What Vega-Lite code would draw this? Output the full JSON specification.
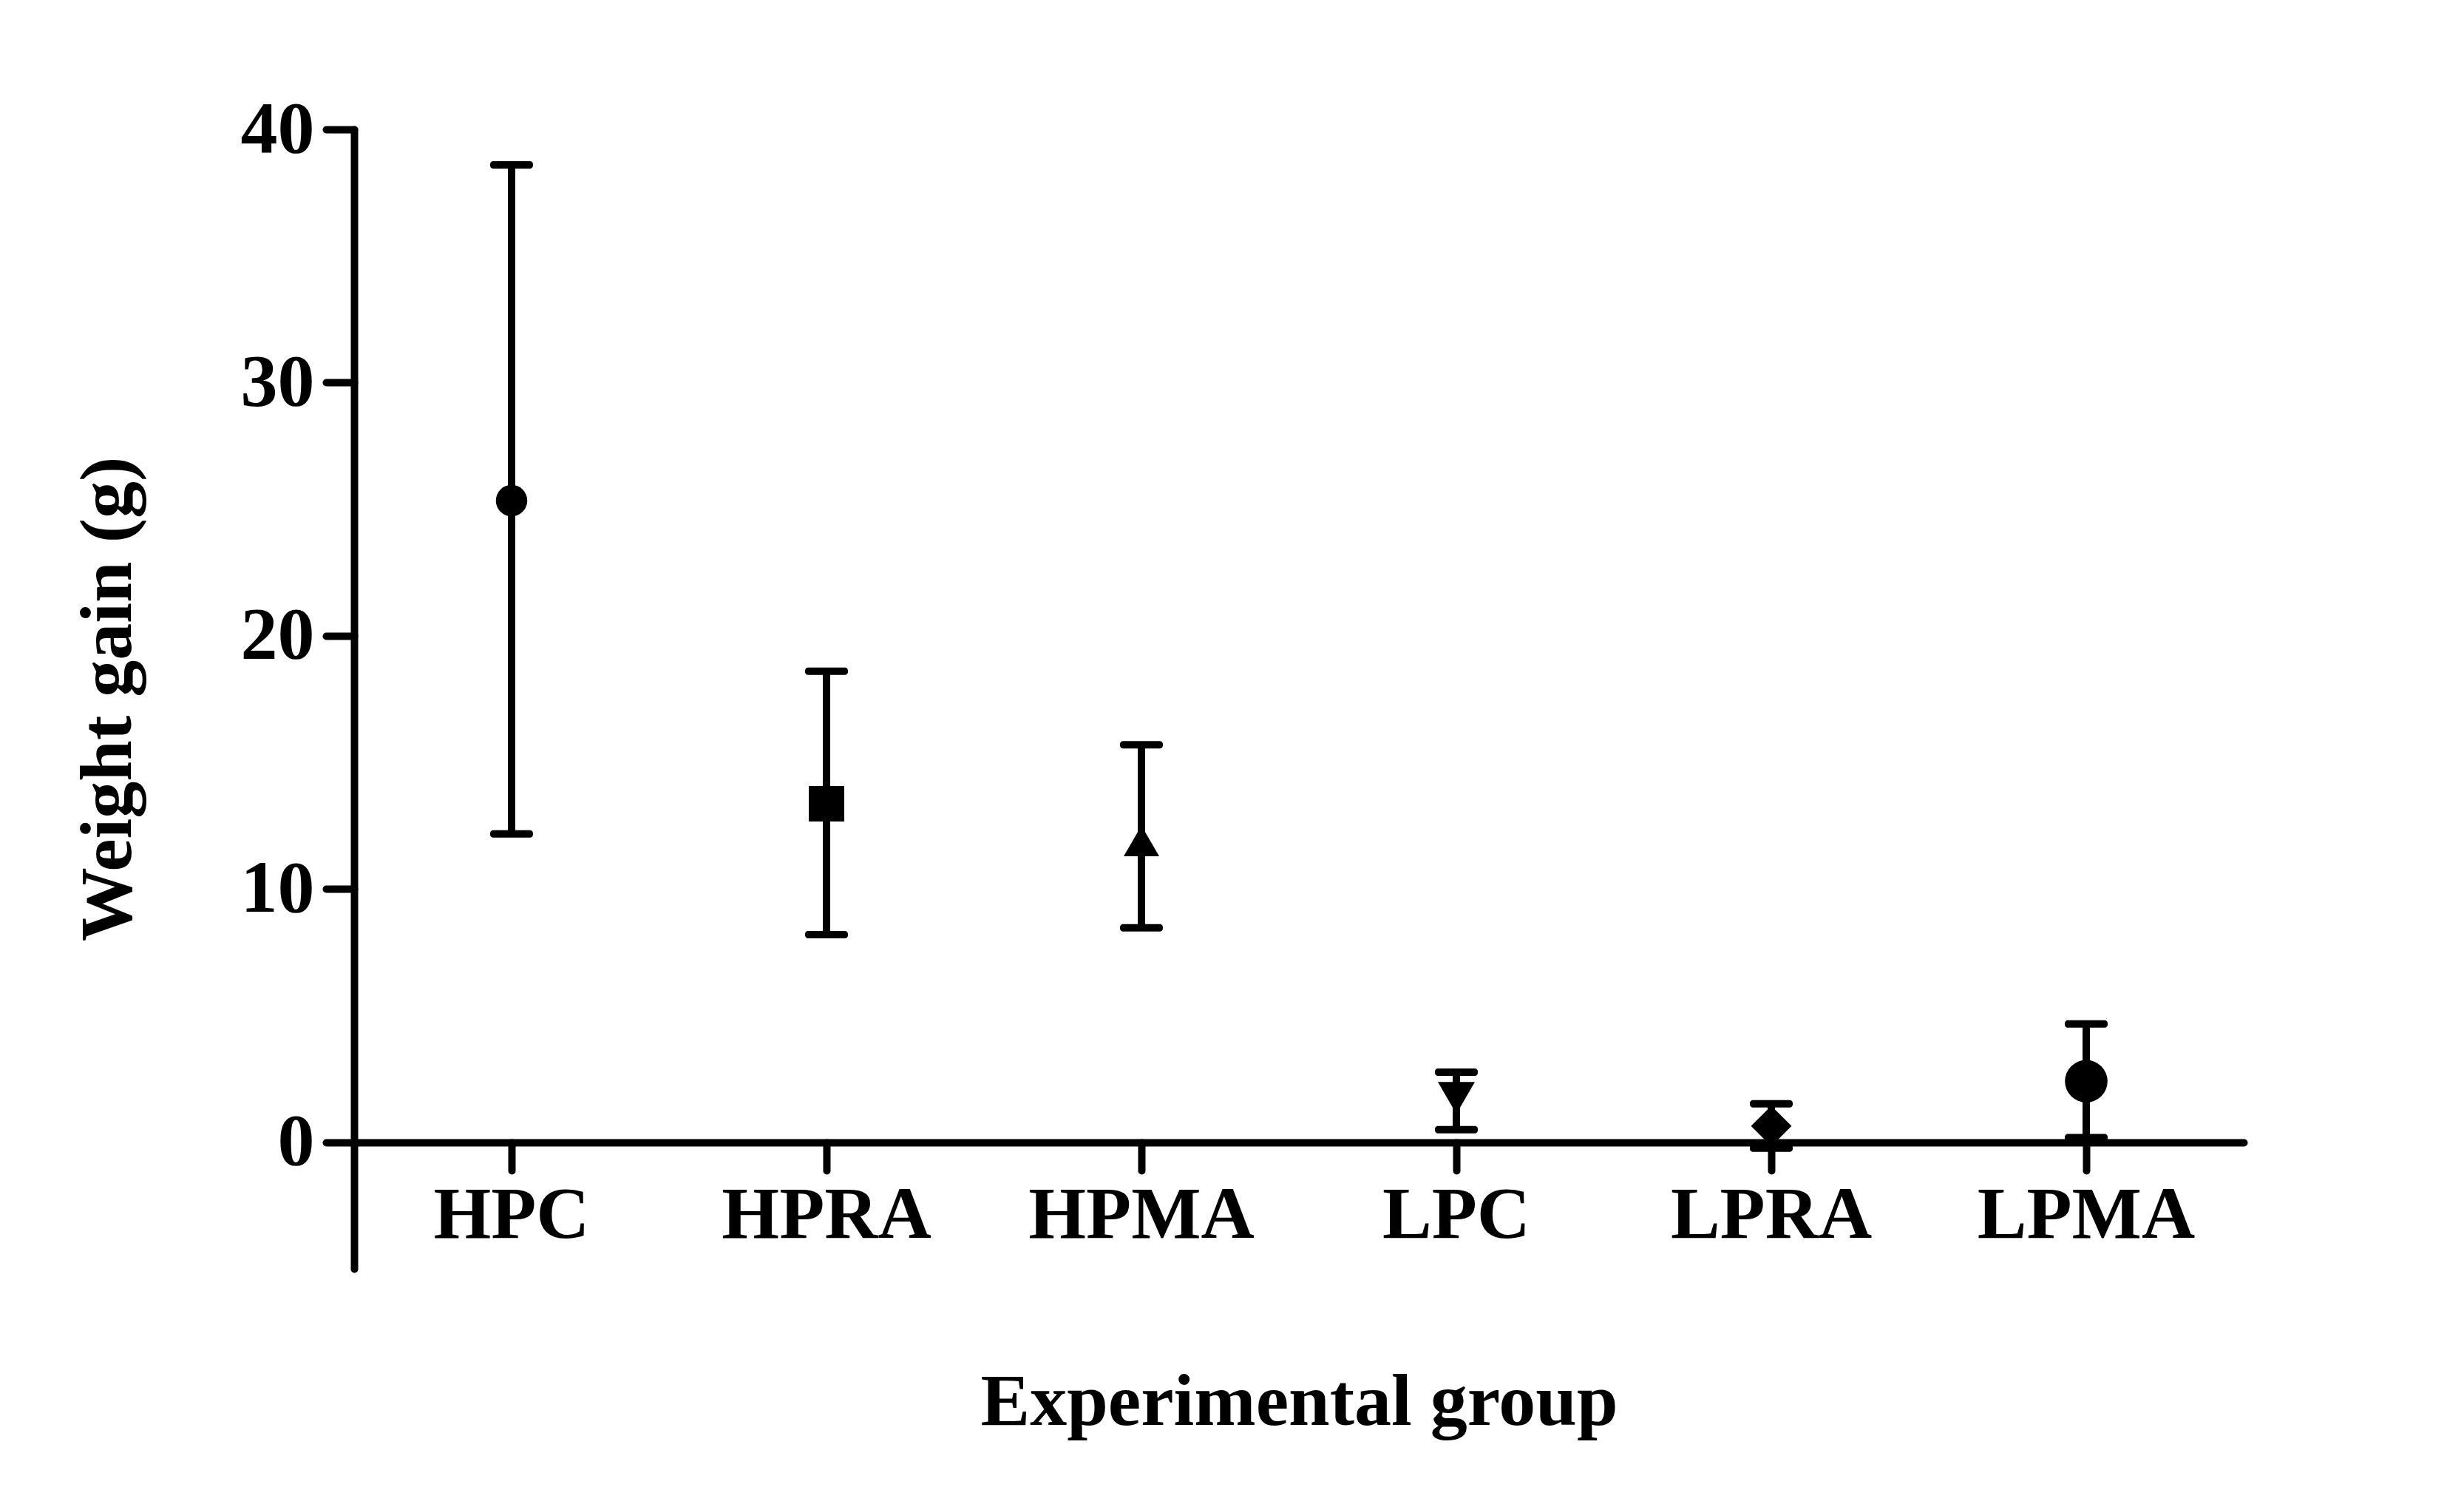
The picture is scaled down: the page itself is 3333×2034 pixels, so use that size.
{
  "$schema": "https://vega.github.io/schema/vega-lite/v6.json",
  "autosize": "none",
  "width": 2556,
  "height": 1541,
  "padding": {"left": 479, "top": 175, "right": 298, "bottom": 318},
  "background": "white",
  "config": {
    "view": {"stroke": null},
    "font": "Liberation Serif"
  },
  "data": {
    "values": [
      {"group": "HPC", "mean": 25.34, "lower": 12.18, "upper": 38.6},
      {"group": "HPRA", "mean": 13.37, "lower": 8.2, "upper": 18.6},
      {"group": "HPMA", "mean": 11.9, "lower": 8.47, "upper": 15.7},
      {"group": "LPC", "mean": 1.75, "lower": 0.5, "upper": 2.77},
      {"group": "LPRA", "mean": 0.64, "lower": -0.23, "upper": 1.52},
      {"group": "LPMA", "mean": 2.41, "lower": 0.18, "upper": 4.67}
    ]
  },
  "encoding": {
    "x": {
      "field": "group",
      "type": "nominal",
      "sort": ["HPC", "HPRA", "HPMA", "LPC", "LPRA", "LPMA"],
      "scale": {"type": "band", "paddingInner": 0, "paddingOuter": 0},
      "title": "Experimental group",
      "axis": {
        "offset": -171,
        "bandPosition": 0.5,
        "labelAngle": 0,
        "labelLimit": 0,
        "labelFont": "Liberation Serif",
        "labelFontSize": 100,
        "labelFontWeight": "bold",
        "labelColor": "black",
        "labelPadding": 11,
        "domainColor": "black",
        "domainWidth": 10,
        "domainCap": "round",
        "tickColor": "black",
        "tickWidth": 10,
        "tickSize": 38,
        "tickCap": "round",
        "grid": false,
        "titleFont": "Liberation Serif",
        "titleFontSize": 100,
        "titleFontWeight": "bold",
        "titleColor": "black",
        "titleY": 381,
        "titleBaseline": "alphabetic"
      }
    }
  },
  "layer": [
    {
      "mark": {"type": "rule", "color": "black", "strokeWidth": 10},
      "encoding": {
        "y": {
          "field": "lower",
          "type": "quantitative",
          "scale": {"domain": [-5, 40], "nice": false, "zero": false},
          "title": "Weight gain (g)",
          "axis": {
            "values": [0, 10, 20, 30, 40],
            "grid": false,
            "labelFont": "Liberation Serif",
            "labelFontSize": 100,
            "labelFontWeight": "bold",
            "labelColor": "black",
            "labelPadding": 16,
            "labelFlush": false,
            "labelLimit": 0,
            "domainColor": "black",
            "domainWidth": 10,
            "domainCap": "round",
            "tickColor": "black",
            "tickWidth": 10,
            "tickSize": 38,
            "tickCap": "round",
            "titleFont": "Liberation Serif",
            "titleFontSize": 100,
            "titleFontWeight": "bold",
            "titleColor": "black",
            "titleAngle": -90,
            "titleX": -303,
            "titleY": 770,
            "titleAlign": "center",
            "titleBaseline": "alphabetic",
            "titleLimit": 0
          }
        },
        "y2": {"field": "upper"}
      }
    },
    {
      "mark": {"type": "tick", "color": "black", "size": 58, "thickness": 10, "opacity": 1, "cornerRadius": 4},
      "encoding": {
        "y": {"field": "upper", "type": "quantitative"}
      }
    },
    {
      "mark": {"type": "tick", "color": "black", "size": 58, "thickness": 10, "opacity": 1, "cornerRadius": 4},
      "encoding": {
        "y": {"field": "lower", "type": "quantitative"}
      }
    },
    {
      "mark": {"type": "point", "filled": true, "color": "black", "opacity": 1},
      "encoding": {
        "y": {"field": "mean", "type": "quantitative"},
        "shape": {
          "field": "group",
          "type": "nominal",
          "scale": {
            "domain": ["HPC", "HPRA", "HPMA", "LPC", "LPRA", "LPMA"],
            "range": ["circle", "square", "triangle-up", "triangle-down", "diamond", "circle"]
          },
          "legend": null
        },
        "size": {
          "field": "group",
          "type": "ordinal",
          "scale": {
            "type": "ordinal",
            "domain": ["HPC", "HPRA", "HPMA", "LPC", "LPRA", "LPMA"],
            "range": [1810, 2304, 2304, 2500, 3000, 3318]
          },
          "legend": null
        }
      }
    }
  ]
}
